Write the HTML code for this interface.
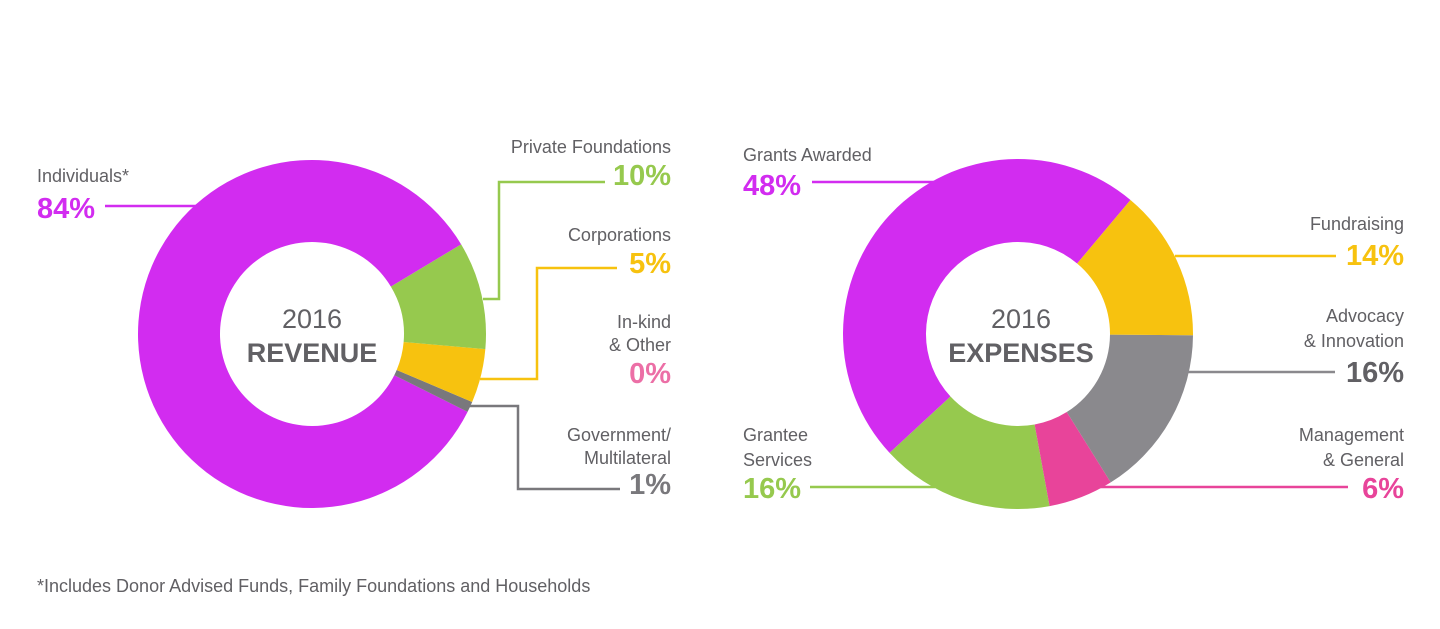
<!DOCTYPE html>
<html><head><meta charset="utf-8"><style>
body{margin:0;background:#fff;width:1440px;height:629px;overflow:hidden;font-family:"Liberation Sans",sans-serif;}
svg{display:block}
.lbl{fill:#616064;font-size:18px}
.pct{font-size:29px;font-weight:bold}
</style></head><body>
<svg id="c" width="1440" height="629">
<text x="312" y="328" text-anchor="middle" class="lbl" style="font-size:27px">2016</text>
<text x="312" y="362" text-anchor="middle" style="font-size:27px;font-weight:bold;fill:#616064">REVENUE</text>
<text x="1021" y="328" text-anchor="middle" class="lbl" style="font-size:27px">2016</text>
<text x="1021" y="362" text-anchor="middle" style="font-size:27px;font-weight:bold;fill:#616064">EXPENSES</text>
<text x="37" y="592" class="lbl">*Includes Donor Advised Funds, Family Foundations and Households</text>
</svg>
<script>
const revCats=["Private Foundations","Corporations","In-kind & Other","Government/Multilateral","Individuals"];
const revVals=[10,5,0,1,84];
const revColors=["#96c94e","#f7c20f","#ec6fa6","#79787c","#d22cf0"];
const expCats=["Fundraising","Advocacy & Innovation","Management & General","Grantee Services","Grants Awarded"];
const expVals=[14,16,6,16,48];
const expColors=["#f7c20f","#8a898d","#e8449a","#96c94e","#d22cf0"];
const NS="http://www.w3.org/2000/svg";
const svg=document.getElementById('c');
function mk(t,a){const e=document.createElementNS(NS,t);for(const k in a)e.setAttribute(k,a[k]);svg.insertBefore(e,svg.firstChild);return e;}
function donut(cx,cy,ro,ri,start,vals,colors,name){
  let a=start;const tot=vals.reduce((s,v)=>s+v,0);
  vals.forEach((v,i)=>{
    if(v<=0)return;
    const b=a+v/tot*2*Math.PI;const lg=(b-a)>Math.PI?1:0;
    const p=(r,t)=>(cx+r*Math.cos(t)).toFixed(2)+","+(cy+r*Math.sin(t)).toFixed(2);
    const d="M"+p(ro,a)+"A"+ro+","+ro+" 0 "+lg+" 1 "+p(ro,b)+"L"+p(ri,b)+"A"+ri+","+ri+" 0 "+lg+" 0 "+p(ri,a)+"Z";
    const e=mk('path',{d:d,fill:colors[i]});
    
    
    a=b;
  });
}
donut(312,334,174,92,-31*Math.PI/180,revVals,revColors,'revenue');
donut(1018,334,175,92,-50*Math.PI/180,expVals,expColors,'expenses');
function line(pts,col,name){const e=document.createElementNS(NS,'polyline');e.setAttribute('points',pts);e.setAttribute('fill','none');e.setAttribute('stroke',col);e.setAttribute('stroke-width','2.5');svg.appendChild(e);

}
function txt(x,y,s,cls,col,anchor,name){const e=document.createElementNS(NS,'text');e.setAttribute('x',x);e.setAttribute('y',y);e.setAttribute('class',cls);if(col)e.setAttribute('fill',col);e.setAttribute('text-anchor',anchor);e.textContent=s;svg.appendChild(e);

}
// leader lines
line("483,299 499,299 499,182 605,182",revColors[0],'leader-private-foundations');
line("480,379 537,379 537,268 617,268",revColors[1],'leader-corporations');
line("468,406 518,406 518,489 620,489",revColors[3],'leader-government');
line("197,206 105,206","#d22cf0",'leader-individuals');
line("935,182 812,182","#d22cf0",'leader-grants');
line("1175,256 1336,256",expColors[0],'leader-fundraising');
line("1188,372 1335,372",expColors[1],'leader-advocacy');
line("1100,487 1348,487",expColors[2],'leader-management');
line("810,487 935,487",expColors[3],'leader-grantee');
// labels
txt(671,153,"Private Foundations","lbl",null,"end",'label-private-foundations');
txt(671,185,revVals[0]+"%","pct",revColors[0],"end",'pct-private-foundations');
txt(671,241,"Corporations","lbl",null,"end",'label-corporations');
txt(671,273,revVals[1]+"%","pct",revColors[1],"end",'pct-corporations');
txt(671,328,"In-kind","lbl",null,"end",'label-inkind-1');
txt(671,351,"& Other","lbl",null,"end",'label-inkind-2');
txt(671,383,revVals[2]+"%","pct",revColors[2],"end",'pct-inkind');
txt(671,441,"Government/","lbl",null,"end",'label-government-1');
txt(671,464,"Multilateral","lbl",null,"end",'label-government-2');
txt(671,494,revVals[3]+"%","pct",revColors[3],"end",'pct-government');
txt(37,182,"Individuals*","lbl",null,"start",'label-individuals');
txt(37,218,revVals[4]+"%","pct","#d22cf0","start",'pct-individuals');
txt(743,161,"Grants Awarded","lbl",null,"start",'label-grants');
txt(743,195,expVals[4]+"%","pct","#d22cf0","start",'pct-grants');
txt(1404,230,"Fundraising","lbl",null,"end",'label-fundraising');
txt(1404,265,expVals[0]+"%","pct",expColors[0],"end",'pct-fundraising');
txt(1404,322,"Advocacy","lbl",null,"end",'label-advocacy-1');
txt(1404,347,"& Innovation","lbl",null,"end",'label-advocacy-2');
txt(1404,382,expVals[1]+"%","pct","#616064","end",'pct-advocacy');
txt(1404,441,"Management","lbl",null,"end",'label-management-1');
txt(1404,466,"& General","lbl",null,"end",'label-management-2');
txt(1404,498,expVals[2]+"%","pct",expColors[2],"end",'pct-management');
txt(743,441,"Grantee","lbl",null,"start",'label-grantee-1');
txt(743,466,"Services","lbl",null,"start",'label-grantee-2');
txt(743,498,expVals[3]+"%","pct",expColors[3],"start",'pct-grantee');
</script>
</body></html>
